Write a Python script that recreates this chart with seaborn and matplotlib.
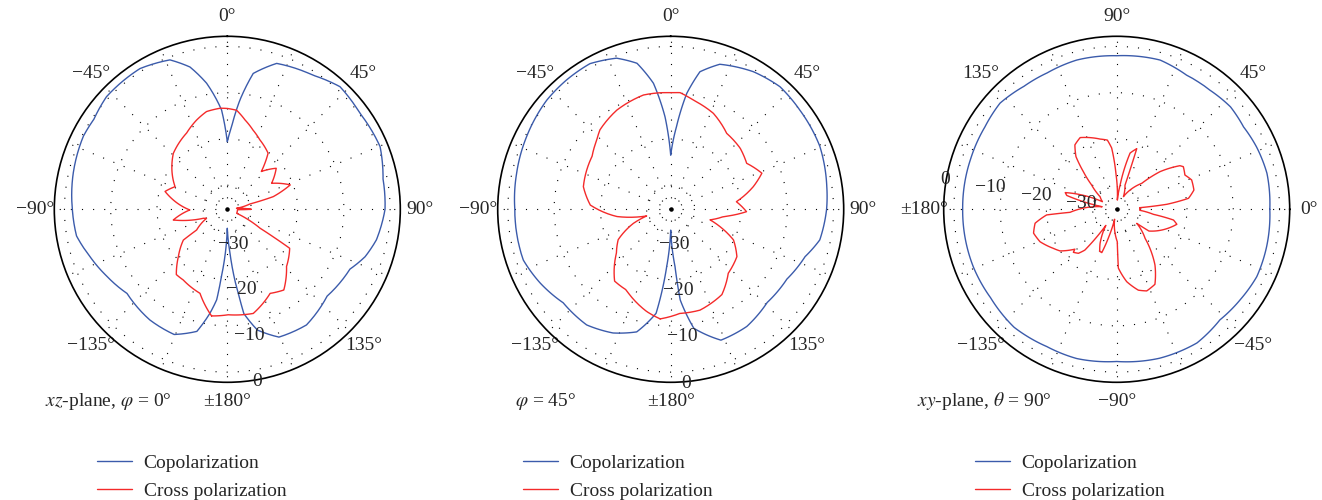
import numpy as np
import matplotlib
matplotlib.use('Agg')
import matplotlib.pyplot as plt
import seaborn as sns

# radiation patterns: angle (deg), gain (dB)
xz_co_deg = [-175, -173.3, -170.5, -166, -157, -145, -130, -119, -109, -100, -90, -77, -63, -56, -47,
             -31.8, -21, -14.7, -9.3, -3.3, 0, 3, 6.6, 10.8, 18.7, 32.6, 42.6, 54, 67.7, 79, 90, 101.6,
             109, 116, 131, 145.6, 158, 166, 171, 172, 176.5, 180]
xz_co_db = [-20.6, -15.5, -12.4, -8.0, -5.8, -6.0, -6.9, -5.4, -3.8, -2.1, -1.7, -1.0, -0.3, -0.4, 0.5,
            0.6, -0.6, -3.4, -7.6, -13.7, -20.6, -17.3, -11.4, -5.3, -1.9, -0.8, 0.8, 0.2, 0.5, -0.9, -1.1, -2.3,
            -3.7, -5.7, -6.6, -4.9, -5.4, -8.3, -12.4, -15.4, -25.7, -31.1]
xz_cx_deg = [-171.6, -162, -148, -142, -134, -125, -124, -113.5, -110.6, -101.2, -91, -74, -66.6, -44,
             -28, -19, -12, -4, 0, 5.4, 11.2, 18, 25, 36, 42, 50, 59.6, 68.8, 74.6, 76.8, 84, 90, 92,
             113, 120, 121, 122, 134, 145, 153, 166, 179.5]
xz_cx_db = [-11.9, -16.1, -17.2, -17.3, -20.5, -23.6, -27.2, -30.3, -29.7, -23.3, -27.1, -21.2, -22.9, -18.4,
            -16.5, -14.8, -13.6, -13.3, -13.4, -13.7, -15.5, -17.2, -18.6, -20.2, -24.2, -21.4, -24.1, -20.6, -24.9,
            -30.2, -33.2, -30.0, -33.0, -33.0, -27.0, -23.5, -19.3, -17.4, -13.9, -14.8, -12.0, -12.4]

p45_co_deg = [-176, -172, -164.5, -155, -144, -131, -119.5, -109, -99, -90, -77, -63, -48.6, -38.8, -29,
              -19.7, -13, -7.8, -3.5, 0, 4, 7.9, 12, 18.7, 31, 41.7, 52.5, 67, 81.7, 90, 101.6, 109.4, 121,
              134, 147, 159, 169, 174, 175.7, 180]
p45_co_db = [-22.8, -12.5, -7.7, -5.7, -4.3, -4.4, -2.8, -1.5, -1.5, -1.5, -1.0, -0.3, 0.5, 0.7, 0.8,
             -0.5, -2.8, -7.7, -15.2, -23.5, -17.3, -9.9, -4.8, -2.1, -0.5, 0.3, 0.0, -0.2, -1.1, -1.5, -2.3, -4.4, -5.9,
             -6.2, -5.0, -4.9, -9.0, -15.5, -22.8, -30.7]
p45_cx_deg = [-174.5, -166.8, -151, -142, -129, -120, -110.6, -105.5, -97.7, -87, -75.5, -56, -46.9, -41.7,
              -28.5, -13.4, -5.2, 0, 4.6, 11.7, 24, 36.4, 48.7, 58.8, 68.4, 74.7, 83.4, 91.8, 97.9, 105, 116,
              125.6, 138, 149, 163.8, 175]
p45_cx_db = [-11.4, -12.5, -15.3, -15.5, -20.1, -22.1, -26.6, -29.8, -23.5, -17.8, -15.7, -14.7, -13.3, -12.2,
             -10.8, -9.8, -9.9, -10.0, -9.9, -11.1, -12.5, -14.8, -15.2, -16.0, -14.0, -16.7, -20.9, -18.8, -23.7, -26.4, -20.1,
             -17.6, -16.6, -13.7, -12.5, -12.6]

xy_co_deg = [0, 13.5, 24, 33, 42, 52, 62.5, 73.8, 90, 105, 117, 127, 137.7, 148, 161, 180, 202, 215, 229,
             243, 255, 270, 286, 301, 313, 324, 334.3, 346]
xy_co_db = [-2.1, -1.8, -2.1, -2.5, -2.1, -2.5, -2.5, -1.6, -2.0, -1.8, -2.1, -1.9, -1.1, -1.6, -1.8, -1.9, -1.8,
            -1.9, -1.4, -1.9, -1.8, -2.3, -1.7, -1.5, -2.5, -2.1, -1.6, -1.8]
xy_cx_deg = [4, 5.7, 8.7, 14, 21.4, 26.7, 32.6, 34.6, 41, 46, 62, 71, 71.7, 76.6, 82, 86, 91, 94.7, 97.7,
             103.3, 117, 123, 127.7, 131.5, 135.8, 142.8, 152, 162, 164.5, 170, 183.7, 184.6, 189.7, 196,
             202.9, 211.6, 216.3, 223.6, 224.8, 229, 232, 236, 244, 248, 251, 254, 258, 271, 271.6, 277.9,
             285, 290.2, 297, 304.5, 308.5, 314.3, 325, 326, 331.6, 346, 349.3, 352.2, 357.5]
xy_cx_db = [-30.2, -24.3, -19.5, -18.0, -17.8, -18.7, -18.1, -18.6, -22.8, -27.4, -32.1, -29.7, -21.4, -22.7,
            -29.9, -33.2, -27.8, -21.9, -20.1, -19.6, -17.8, -18.6, -20.8, -24.3, -27.6, -30.7, -31.7, -23.5,
            -24.0, -32.0, -25.1, -20.0, -17.3, -16.5, -17.2, -19.1, -20.0, -22.7, -22.0, -22.6, -24.0, -31.0,
            -27.0, -25.4, -25.3, -29.0, -33.0, -28.2, -22.5, -19.4, -17.1, -16.4, -17.0, -20.6, -23.0, -26.4,
            -29.9, -26.8, -25.4, -21.8, -22.7, -27.2, -30.2]

ring_ticks = [-30, -20, -10, 0]
ring_labels = ['−30', '−20', '−10', '0']
angle_labels = ['0°', '45°', '90°', '135°', '±180°', '−135°', '−90°', '−45°']
titles = [r'$xz$-plane, $\varphi$ = 0°', r'$\varphi$ = 45°', r'$xy$-plane, $\theta$ = 90°']

R_MIN, R_MAX = -35.2, 2.2
BLUE = '#3b5bab'
RED = '#f42a2a'

sns.set_theme(style='white')
plt.rcParams['font.family'] = ['Liberation Serif', 'DejaVu Serif']
plt.rcParams['mathtext.fontset'] = 'stix'

fig = plt.figure(figsize=(13.22, 5.0), dpi=100)
W, H = 1322, 500


def closed(deg, db):
    t = np.deg2rad(np.append(deg, deg[0] + 360))
    r = np.append(db, db[0])
    return t, r


def draw_pattern(cx, co, cr, zero, direction, rlab_angle):
    rad = 173
    ax = fig.add_axes([(cx - rad) / W, (H - 209.3 - rad) / H, 2 * rad / W, 2 * rad / H], projection='polar')
    ax.set_theta_zero_location(zero)
    ax.set_theta_direction(direction)

    t, r = closed(*co)
    sns.lineplot(x=t, y=r, ax=ax, sort=False, estimator=None, color=BLUE, lw=1.0, label='Copolarization')
    t, r = closed(*cr)
    sns.lineplot(x=t, y=r, ax=ax, sort=False, estimator=None, color=RED, lw=1.0, label='Cross polarization')
    # follow the polar arcs between read points instead of straight chords
    for ln in ax.lines:
        ln.get_path()._interpolation_steps = 30

    ax.set_ylim(R_MIN, R_MAX)
    ax.set_yticks(ring_ticks)
    ax.set_yticklabels([])
    ax.set_xticks(np.deg2rad(np.arange(0, 360, 45)))
    ax.set_xticklabels(angle_labels, fontsize=14)
    ax.set_xticks(np.deg2rad(np.arange(22.5, 360, 45)), minor=True)
    ax.tick_params(axis='x', which='major', direction='in', length=6, width=0.8, color='black', pad=7)
    ax.tick_params(axis='x', which='minor', length=0)
    ax.grid(True, which='both', color='black', lw=0.8, linestyle=(0, (1, 9)))
    ax.spines['polar'].set_color('black')
    ax.spines['polar'].set_linewidth(1.2)
    ax.scatter([0], [R_MIN], s=5, color='black', zorder=5)
    for tk, lab in zip(ring_ticks, ring_labels):
        ax.text(np.deg2rad(rlab_angle), tk + 2.5, lab, ha='center', va='center', fontsize=14)
    ax.set_xlabel('')
    ax.set_ylabel('')
    return ax


axes = [
    draw_pattern(227.3, (xz_co_deg, xz_co_db), (xz_cx_deg, xz_cx_db), 'N', -1, 170),
    draw_pattern(670.7, (p45_co_deg, p45_co_db), (p45_cx_deg, p45_cx_db), 'N', -1, 175),
    draw_pattern(1116.7, (xy_co_deg, xy_co_db), (xy_cx_deg, xy_cx_db), 'E', 1, 170),
]

title_x = [45, 515, 917]
legend_x = [97, 523, 975]
for ax, tx, lx, title in zip(axes, title_x, legend_x, titles):
    fig.text(tx / W, 1 - 401 / H, title, ha='left', va='center', fontsize=14)
    handles, labels = ax.get_legend_handles_labels()
    ax.legend(handles, labels, loc='upper left', bbox_to_anchor=(lx / W, 1 - 454 / H),
              bbox_transform=fig.transFigure, frameon=False, fontsize=14, borderpad=0,
              borderaxespad=0, handlelength=1.8, handletextpad=0.6, labelspacing=0.55)

fig.savefig('out.png', dpi=100)
